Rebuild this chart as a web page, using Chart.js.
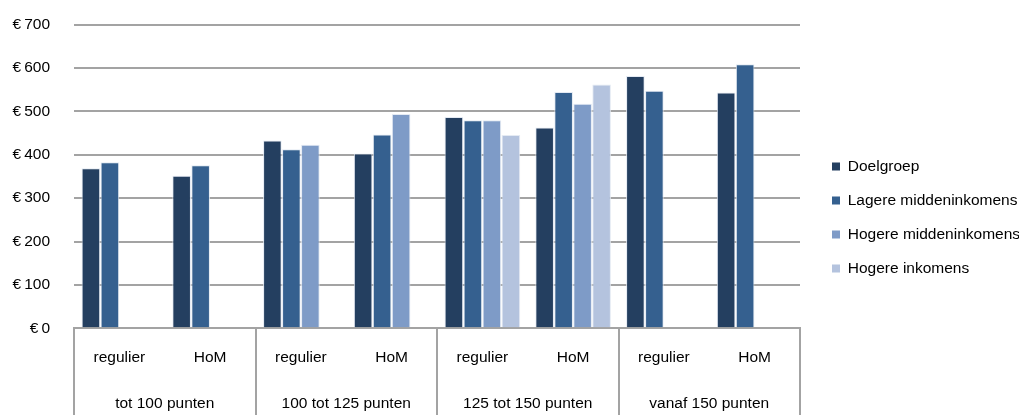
<!DOCTYPE html>
<html>
<head>
<meta charset="utf-8">
<script src="https://cdn.jsdelivr.net/npm/chart.js@4/dist/chart.umd.min.js"></script>
<style>
  html, body { margin: 0; padding: 0; background: #fff; }
  #wrap { width: 1019px; height: 415px; position: relative; }
</style>
</head>
<body>
<div id="wrap"><canvas id="c" width="1019" height="415"></canvas></div>
<script>
const subcategories = ['regulier', 'HoM', 'regulier', 'HoM', 'regulier', 'HoM', 'regulier', 'HoM'];
const groups = ['tot 100 punten', '100 tot 125 punten', '125 tot 150 punten', 'vanaf 150 punten'];
const seriesNames = ['Doelgroep', 'Lagere middeninkomens', 'Hogere middeninkomens', 'Hogere inkomens'];
const doelgroep = [369, 352, 433, 403, 487, 463, 582, 544];
const lagereMidden = [383, 376, 413, 447, 480, 545, 548, 609];
const hogereMidden = [null, null, 423, 494, 480, 518, null, null];
const hogereInkomens = [null, null, null, null, 446, 562, null, null];
const yTicks = [0, 100, 200, 300, 400, 500, 600, 700];

const colors = ['#243f60', '#35608f', '#7e9bc7', '#b4c3de'];
const seriesValues = [doelgroep, lagereMidden, hogereMidden, hogereInkomens];
const gridColor = '#a3a3a3';
const FONT = { family: '"Liberation Sans", Arial, sans-serif', size: 15.5, lineHeight: 1 };

Chart.defaults.color = '#000';
Chart.defaults.font.family = FONT.family;
Chart.defaults.font.size = FONT.size;

new Chart(document.getElementById('c'), {
  type: 'bar',
  data: {
    labels: subcategories,
    datasets: seriesNames.map((name, i) => ({
      label: name,
      data: seriesValues[i],
      backgroundColor: colors[i],
      borderColor: 'rgba(225,232,242,0.9)',
      borderWidth: 1,
      borderSkipped: 'start',
      categoryPercentage: 0.837,
      barPercentage: 0.98,
      xAxisID: 'x',
      yAxisID: 'y'
    }))
  },
  options: {
    responsive: false,
    animation: false,
    devicePixelRatio: 1,
    layout: { padding: { left: 12, right: 0, top: 24, bottom: 4 } },
    plugins: {
      tooltip: { enabled: false },
      legend: {
        position: 'right',
        align: 'center',
        maxWidth: 205.5,
        labels: {
          boxWidth: 8,
          boxHeight: 8,
          padding: 18.5,
          color: '#000',
          font: { family: FONT.family, size: FONT.size },
          generateLabels: chart => Chart.defaults.plugins.legend.labels.generateLabels(chart)
            .map(l => Object.assign(l, { lineWidth: 0 }))
        }
      }
    },
    scales: {
      y: {
        position: 'left',
        min: 0,
        max: 700,
        afterBuildTicks: s => { s.ticks = yTicks.map(v => ({ value: v })); },
        afterFit: s => { s.width = 62; },
        ticks: {
          padding: 24,
          font: { family: FONT.family, size: FONT.size, lineHeight: 0.1 },
          callback: v => '€\u2009' + v
        },
        grid: { color: gridColor, lineWidth: 2, drawTicks: false },
        border: { display: false }
      },
      pad: {
        type: 'linear',
        position: 'right',
        display: false,
        afterFit: s => { s.width = 13.5; }
      },
      x: {
        type: 'category',
        position: 'bottom',
        weight: 0,
        offset: true,
        afterFit: s => { s.height = 37.25; },
        grid: {
          offset: true,
          drawOnChartArea: false,
          drawTicks: true,
          tickLength: 38,
          color: gridColor,
          lineWidth: c => (c.type !== 'tick' || c.index % 2 === 0) ? 2 : 0
        },
        border: { display: true, color: gridColor, width: 2 },
        ticks: { padding: -16.25, maxRotation: 0, autoSkip: false, font: FONT }
      },
      x2: {
        type: 'category',
        position: 'bottom',
        weight: 1,
        labels: groups,
        offset: true,
        afterFit: s => { s.height = 45.5; },
        grid: {
          offset: true,
          drawOnChartArea: false,
          drawTicks: true,
          tickLength: 52,
          color: gridColor,
          lineWidth: 2
        },
        border: { display: false },
        ticks: { padding: -22, maxRotation: 0, autoSkip: false, font: FONT }
      }
    }
  }
});
</script>
</body>
</html>
